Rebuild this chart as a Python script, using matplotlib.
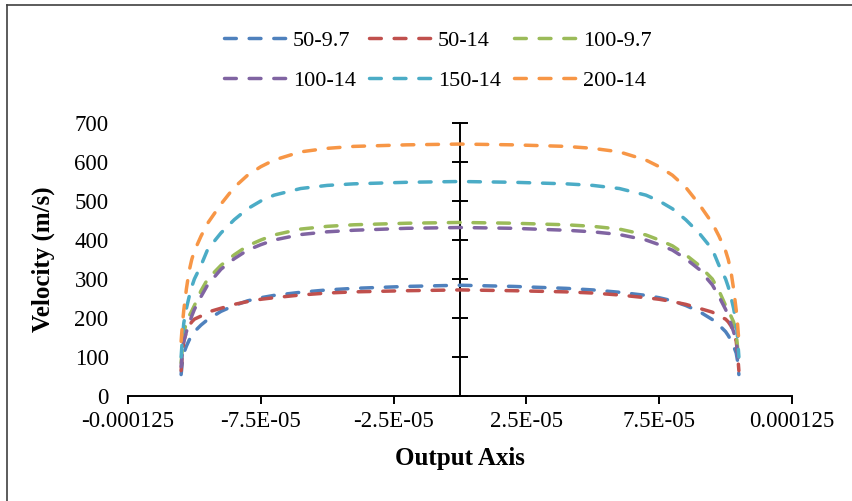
import matplotlib
matplotlib.use('Agg')
import matplotlib.pyplot as plt
from matplotlib.lines import Line2D

# ---- data ----
position = [-1.05e-4, -1.045e-4, -1.04e-4, -1.03e-4, -1.02e-4, -1.01e-4, -1.0e-4,
            -9.75e-5, -9.5e-5, -9e-5, -8.5e-5, -8e-5, -7.5e-5, -7e-5, -6e-5,
            -5e-5, -4e-5, -2e-5, 0.0,
            2e-5, 4e-5, 5e-5, 6e-5, 7e-5, 7.5e-5, 8e-5, 8.5e-5, 9e-5, 9.5e-5,
            9.75e-5, 1.0e-4, 1.01e-4, 1.02e-4, 1.03e-4, 1.04e-4, 1.045e-4, 1.05e-4]

v_50_9_7 = [55, 90, 110, 128, 143, 155, 165, 182, 196, 217, 232, 244, 252, 258, 266,
            272, 276, 281, 284,
            281, 276, 272, 266, 258, 252, 244, 232, 217, 196, 182, 165, 155, 143, 128, 110, 90, 55]
v_50_14 = [65, 110, 140, 165, 180, 190, 197, 205, 215, 225, 235, 242, 248, 252, 259,
           264, 267, 270, 272,
           270, 267, 264, 259, 252, 248, 242, 235, 225, 215, 205, 197, 190, 180, 165, 140, 110, 65]
v_100_9_7 = [85, 125, 160, 190, 205, 218, 232, 270, 300, 335, 362, 385, 400, 413, 428,
             435, 439, 443, 445,
             443, 439, 435, 428, 413, 400, 385, 362, 335, 300, 270, 232, 218, 205, 190, 160, 125, 85]
v_100_14 = [75, 115, 140, 165, 185, 205, 222, 255, 285, 325, 352, 374, 388, 400, 414,
            421, 425, 430, 432,
            430, 425, 421, 414, 400, 388, 374, 352, 325, 285, 255, 222, 205, 185, 165, 140, 115, 75]
v_150_14 = [100, 150, 187, 225, 254, 280, 300, 335, 376, 418, 452, 480, 500, 515, 532,
            540, 544, 548, 550,
            548, 544, 540, 532, 515, 500, 480, 452, 418, 376, 335, 300, 280, 254, 225, 187, 150, 100]
v_200_14 = [140, 185, 220, 275, 320, 350, 372, 410, 443, 492, 535, 566, 588, 605, 626,
            635, 640, 644, 646,
            644, 640, 635, 626, 605, 588, 566, 535, 492, 443, 410, 372, 350, 320, 275, 220, 185, 140]

series_names = ['50-9.7', '50-14', '100-9.7', '100-14', '150-14', '200-14']
series_values = [v_50_9_7, v_50_14, v_100_9_7, v_100_14, v_150_14, v_200_14]
colors = ['#4F81BD', '#C0504D', '#9BBB59', '#8064A2', '#4BACC6', '#F79646']

x_ticks = [-0.000125, -7.5e-05, -2.5e-05, 2.5e-05, 7.5e-05, 0.000125]
x_tick_labels = ['-0.000125', '-7.5E-05', '-2.5E-05', '2.5E-05', '7.5E-05', '0.000125']
y_ticks = [0, 100, 200, 300, 400, 500, 600, 700]

# ---- figure ----
plt.rcParams['font.family'] = ['Liberation Serif', 'DejaVu Serif']
W, H = 852, 501
fig = plt.figure(figsize=(W / 100, H / 100), dpi=100)
ax = fig.add_axes([128 / W, 1 - 396 / H, (792 - 128) / W, (396 - 123) / H])

DASH = (3.4, 3.7)
lines = []
for name, vals, c in zip(series_names, series_values, colors):
    ln, = ax.plot(position, vals, color=c, lw=2.5, dashes=DASH,
                  dash_capstyle='round', label=name)
    lines.append(ln)

ax.set_xlim(-0.000125, 0.000125)
ax.set_ylim(0, 700)
ax.set_xticks(x_ticks, labels=x_tick_labels)
ax.set_yticks(y_ticks)

for s in ['top', 'right', 'left']:
    ax.spines[s].set_visible(False)
ax.spines['bottom'].set_linewidth(1.4)
ax.tick_params(axis='x', direction='out', length=6, width=1.4, pad=5,
               labelsize=16.5, colors='black')
ax.tick_params(axis='y', length=0, pad=14, labelsize=16.5)

# vertical axis crossing at x = 0
sec = ax.secondary_yaxis(0.5)
sec.set_yticks(y_ticks)
sec.tick_params(direction='inout', length=12, width=1.4,
                labelleft=False, labelright=False)
for s in sec.spines.values():
    s.set_linewidth(1.4)

ax.set_ylabel('Velocity (m/s)', fontsize=18, fontweight='bold', va='center')
ax.yaxis.set_label_coords((43 - 128) / 664, 0.5)
ax.set_xlabel('Output Axis', fontsize=18, fontweight='bold', va='center')
ax.xaxis.set_label_coords(0.5, (396 - 458) / 273)

order = [0, 3, 1, 4, 2, 5]
fig.legend([lines[i] for i in order], [series_names[i] for i in order],
           ncol=3, loc='center', bbox_to_anchor=(438 / W, 1 - 60.5 / H),
           frameon=False, fontsize=16, handlelength=3.0, handletextpad=0.1,
           columnspacing=0.6, labelspacing=0.89)

# chart border (only top and left visible in the reference)
fig.add_artist(Line2D([7 / W, 7 / W], [0, 1 - 5 / H], transform=fig.transFigure,
                      color='#404040', lw=1.2))
fig.add_artist(Line2D([7 / W, 1], [1 - 5 / H, 1 - 5 / H], transform=fig.transFigure,
                      color='#404040', lw=1.2))

fig.savefig('out.png', dpi=100)
